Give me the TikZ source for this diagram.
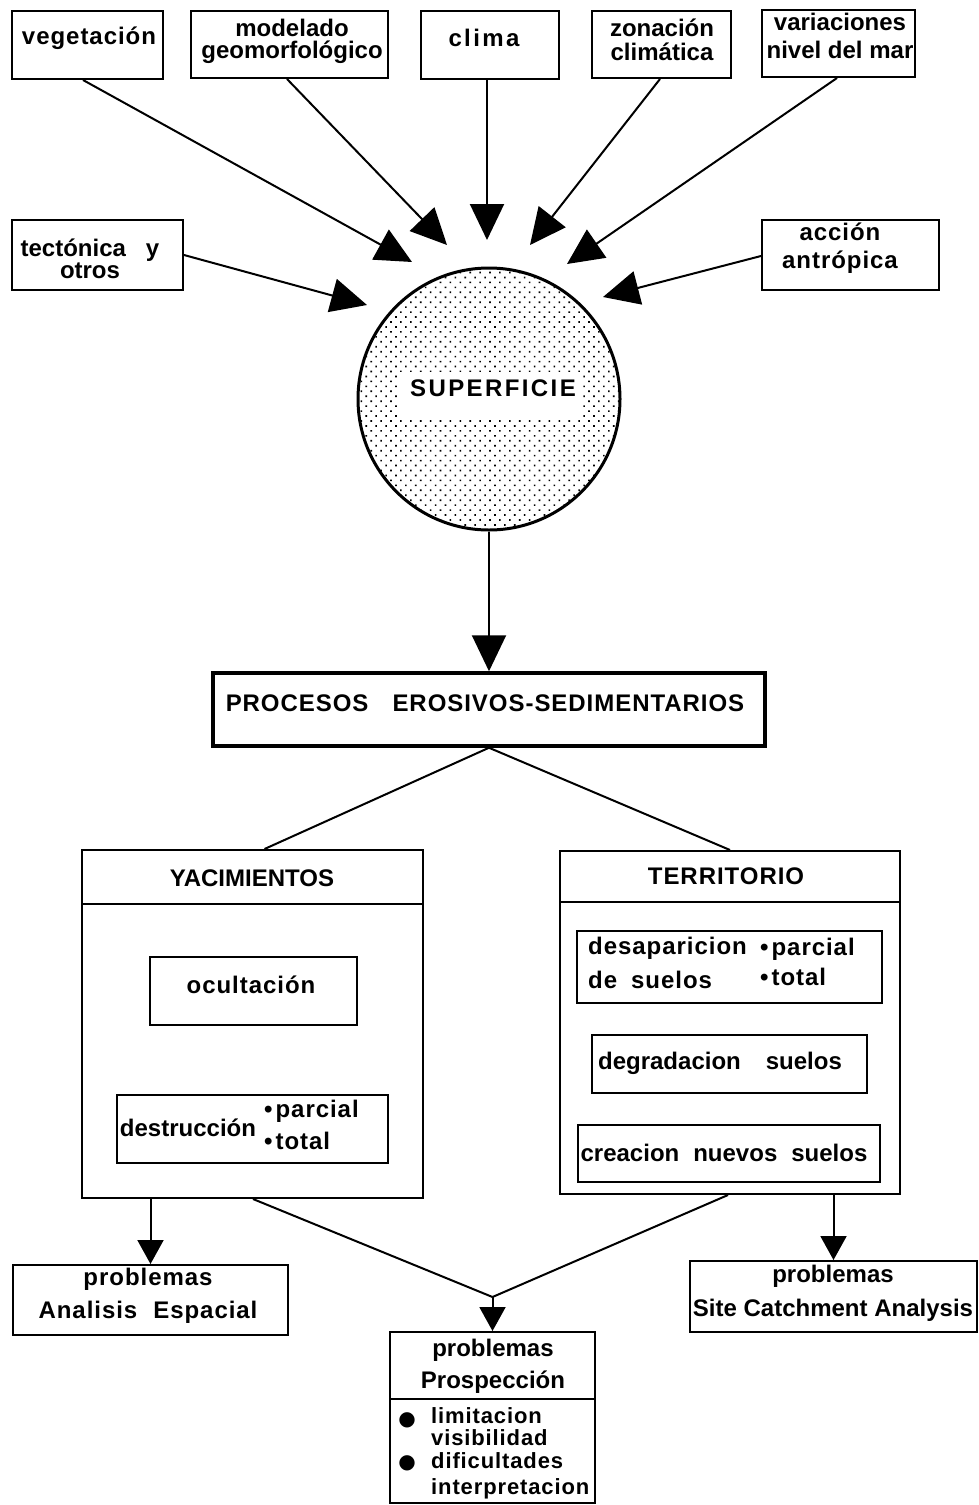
\documentclass[tikz,border=0pt]{standalone}
\usepackage{fontspec}
\setmainfont{Liberation Sans}
\newfontfamily\fN{Liberation Sans}
\newfontfamily\fS[LetterSpace=4]{Liberation Sans}
\newfontfamily\fW[LetterSpace=10]{Liberation Sans}
\newfontfamily\fDV{DejaVu Sans}
\newcommand\FN[1]{\fN\bfseries\fontsize{24}{#1}\selectfont}
\newcommand\FS[1]{\fS\bfseries\fontsize{24}{#1}\selectfont}
\newcommand\FW[1]{\fW\bfseries\fontsize{24}{#1}\selectfont}
\newcommand\FP[1]{\fS\bfseries\fontsize{22}{#1}\selectfont}
\usetikzlibrary{arrows.meta,patterns.meta}
\begin{document}
\begin{tikzpicture}[x=1pt,y=-1pt,
  box/.style={draw, line width=2pt, inner sep=0pt},
  txt/.style={inner sep=0pt, align=center},
  conn/.style={line width=2pt},
  bigarr/.style={line width=2pt, -{Triangle[length=36pt,width=34pt]}},
  smallarr/.style={line width=2pt, -{Triangle[length=24pt,width=26pt]}}]
\fill[white] (0,0) rectangle (979,1505);
\useasboundingbox (0,0) rectangle (979,1505);

% top boxes
\node[box, minimum width=151pt, minimum height=68pt] (veg) at (87.5,45) {};
\node[txt, font={\FS{26}}] (vegt) at (89,38) {vegetación};
\node[box, minimum width=197pt, minimum height=67pt] (mod) at (289.5,44.5) {};
\node[txt, font={\FN{22}}] (modt) at (292,41) {modelado\\geomorfológico};
\node[box, minimum width=138pt, minimum height=68pt] (cli) at (490,45) {};
\node[txt, font={\FW{26}}] (clit) at (484,38) {clima};
\node[box, minimum width=139pt, minimum height=67pt] (zon) at (661.5,44.5) {};
\node[txt, font={\FN{24}}] (zont) at (662,40) {zonación\\climática};
\node[box, minimum width=153pt, minimum height=67pt] (var) at (838.5,43.5) {};
\node[txt, font={\FN{28}}] (vart) at (840,36) {variaciones\\nivel del mar};
\node[box, minimum width=171pt, minimum height=70pt] (tec) at (97.5,255) {};
\node[txt, font={\FN{22}}] (tect) at (90,259) {tectónica\hspace{20pt}y\\otros};
\node[box, minimum width=177pt, minimum height=70pt] (acc) at (850.5,255) {};
\node[txt, font={\FS{28}}] (acct) at (840,248) {acción\\antrópica};

% circle
\node[circle, draw, line width=3pt, minimum size=262pt, inner sep=0pt,
      pattern={Dots[distance=7pt,radius=1.15pt,angle=45]}] (sup) at (489,399) {};
\node[fill=white, minimum width=183pt, minimum height=45pt, inner sep=0pt] (band) at (491.5,394.5) {};
\node[txt, font={\FW{26}}] (supt) at (493,388) {SUPERFICIE};

% arrow tips
\coordinate (tveg) at (412,262);
\coordinate (tmod) at (447,245);
\coordinate (tcli) at (487,240);
\coordinate (tzon) at (530,245);
\coordinate (tvar) at (567,264);
\coordinate (tacc) at (603,297);
\coordinate (ttec) at (367,305);
\draw[bigarr] ([xshift=-4.5pt]veg.south) -- (tveg);
\draw[bigarr] ([xshift=-2.5pt]mod.south) -- (tmod);
\draw[bigarr] ([xshift=-3pt]cli.south) -- (tcli);
\draw[bigarr] ([xshift=-1.5pt]zon.south) -- (tzon);
\draw[bigarr] ([xshift=-1.5pt]var.south) -- (tvar);
\draw[bigarr] ([yshift=-1pt]acc.west) -- (tacc);
\draw[bigarr] (tec.east) -- (ttec);

% procesos
\node[draw, line width=3.5pt, minimum width=552pt, minimum height=73pt, inner sep=0pt] (proc) at (489,709.5) {};
\node[txt, font={\FS{26}}] (proct) at (485,703) {PROCESOS\hspace{24pt}EROSIVOS-SEDIMENTARIOS};
\draw[bigarr] (sup.south) -- (proc.north);

% yacimientos
\node[box, minimum width=341pt, minimum height=348pt] (yac) at (252.5,1024) {};
\draw[conn] ([yshift=-55pt]yac.north west) -- ([yshift=-55pt]yac.north east);
\node[txt, font={\FN{26}}] (yact) at (252,878) {YACIMIENTOS};
\node[box, minimum width=207pt, minimum height=68pt] (ocu) at (253.5,991) {};
\node[txt, font={\FS{26}}] (ocut) at (251,985) {ocultación};
\node[box, minimum width=271pt, minimum height=68pt] (des) at (252.5,1129) {};
\node[txt, font={\FN{26}}] (dest) at (188,1128) {destrucción};
\node[txt, font={\FS{32}}, align=left, anchor=west] (desb) at (264,1125) {•\hspace{3pt}parcial\\•\hspace{3pt}total};

% territorio
\node[box, minimum width=340pt, minimum height=343pt] (ter) at (730,1022.5) {};
\draw[conn] ([yshift=-52pt]ter.north west) -- ([yshift=-52pt]ter.north east);
\node[txt, font={\FS{26}}] (tert) at (726,876) {TERRITORIO};
\node[box, minimum width=305pt, minimum height=72pt] (dsp) at (729.5,967) {};
\node[txt, font={\FS{34}}, align=left, anchor=west] (dspt) at (588,963) {desaparicion\\de\hspace{14pt}suelos};
\node[txt, font={\FS{30}}, align=left, anchor=west] (dspb) at (760,962) {•\hspace{3pt}parcial\\•\hspace{3pt}total};
\node[box, minimum width=275pt, minimum height=58pt] (deg) at (729.5,1064) {};
\node[txt, font={\FN{26}}] (degt) at (720,1063) {degradacion\hspace{25pt}suelos};
\node[box, minimum width=302pt, minimum height=57pt] (cre) at (729,1153.5) {};
\node[txt, font={\FN{26}}] (cret) at (724,1153) {creacion\hspace{14pt}nuevos\hspace{14pt}suelos};

\draw[conn] (proc.south) -- ([xshift=12pt]yac.north);
\draw[conn] (proc.south) -- (ter.north);

% bottom
\node[box, minimum width=275pt, minimum height=70pt] (pae) at (150.5,1300) {};
\node[txt, font={\FS{33}}] (paet) at (148,1296) {problemas\\Analisis\hspace{16pt}Espacial};
\node[box, minimum width=287pt, minimum height=71pt] (psc) at (833.5,1296.5) {};
\node[txt, font={\FN{34}}] (psct) at (833,1293) {problemas\\Site Catchment Analysis};
\node[box, minimum width=205pt, minimum height=171pt] (ppr) at (492.5,1417.5) {};
\draw[conn] ([yshift=-68pt]ppr.north west) -- ([yshift=-68pt]ppr.north east);
\node[txt, font={\FN{32}}] (pprt) at (493,1366) {problemas\\Prospección};
\node[txt, font=\fDV\fontsize{20}{20}\selectfont] (b1) at (407,1420) {●};
\node[txt, font=\fDV\fontsize{20}{20}\selectfont] (b2) at (407,1463) {●};
\node[txt, font={\FP{22}}, align=left, anchor=west] (l1) at (431,1427) {limitacion\\visibilidad};
\node[txt, font={\FP{26}}, align=left, anchor=west] (l2) at (431,1476) {dificultades\\interpretacion};

\coordinate (merge) at (492.5,1297);
\draw[conn] ([xshift=0.5pt]yac.south) -- (merge);
\draw[conn] ([xshift=-2pt]ter.south) -- (merge);
\draw[smallarr] (merge) -- (ppr.north);
\draw[smallarr] (pae.north |- yac.south) -- (pae.north);
\draw[smallarr] (psc.north |- ter.south) -- (psc.north);
\end{tikzpicture}
\end{document}
